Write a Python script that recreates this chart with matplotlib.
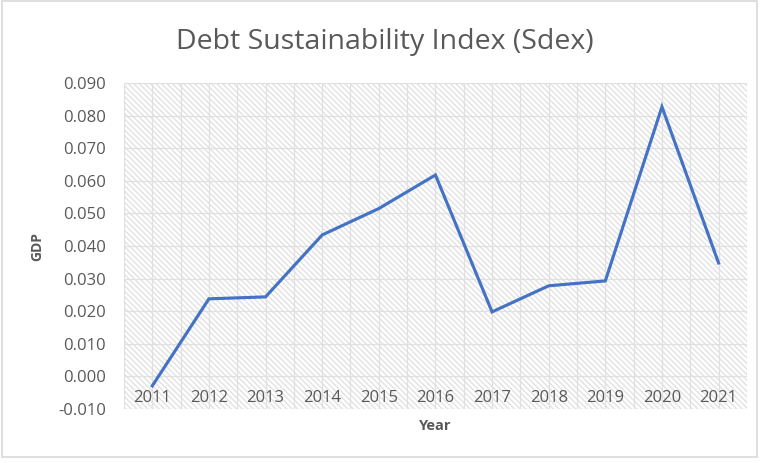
import numpy as np
import matplotlib
matplotlib.use("Agg")
import matplotlib.pyplot as plt
from matplotlib.patches import Rectangle

years = ["2011", "2012", "2013", "2014", "2015", "2016",
         "2017", "2018", "2019", "2020", "2021"]
sdex = [-0.0029, 0.0238, 0.0244, 0.0434, 0.0515, 0.0618,
        0.0198, 0.0278, 0.0293, 0.0827, 0.0348]
y_ticks = [-0.01, 0.0, 0.01, 0.02, 0.03, 0.04, 0.05, 0.06, 0.07, 0.08, 0.09]

plt.rcParams['font.family'] = ['Open Sans', 'DejaVu Sans']
plt.rcParams['hatch.linewidth'] = 1.0
text_grey = '#595959'
grid_grey = '#e0e0e0'

fig = plt.figure(figsize=(7.7, 4.63), dpi=100)
ax = fig.add_axes([0.161, 0.1166, 0.809, 0.704])

# hatched plot area background
ax.add_patch(Rectangle((0, 0), 1, 1, transform=ax.transAxes, facecolor='white',
                       edgecolor='#e2e2e2', hatch='\\' * 6, linewidth=0, zorder=0))

x = np.arange(len(years))
ax.plot(x, sdex, color='#4472C4', linewidth=2.25, zorder=3,
        solid_joinstyle='miter')

ax.set_xlim(-0.5, len(years) - 0.5)
ax.set_ylim(-0.01, 0.09)
ax.set_yticks(y_ticks)
ax.set_yticklabels([f"{v:.3f}" for v in y_ticks])
ax.set_xticks(x)
ax.set_xticklabels(years)
ax.set_xticks(np.arange(-0.5, len(years), 1.0), minor=True)

ax.grid(axis='y', which='major', color=grid_grey, linewidth=0.9, zorder=1)
ax.grid(axis='x', which='both', color=grid_grey, linewidth=0.9, zorder=1)
ax.set_axisbelow(True)

for s in ax.spines.values():
    s.set_visible(False)

ax.tick_params(axis='y', length=0, pad=13, labelsize=12, labelcolor=text_grey)
ax.tick_params(axis='x', which='both', length=0, pad=-14, labelsize=12,
               labelcolor=text_grey)

ax.set_ylabel("GDP", fontsize=10, fontweight='bold', color=text_grey)
ax.yaxis.set_label_coords(-0.128, 0.5)
ax.set_xlabel("Year", fontsize=10.5, fontweight='bold', color=text_grey)
ax.xaxis.set_label_coords(0.5, -0.03)

fig.suptitle("Debt Sustainability Index (Sdex)", x=0.5, y=0.94,
             fontsize=20.5, color=text_grey)

# chart border
fig.add_artist(Rectangle((0.003, 0.013), 0.98, 0.984, transform=fig.transFigure,
                         fill=False, edgecolor='#d9d9d9', linewidth=1.2))

fig.savefig("out.png", dpi=100)
